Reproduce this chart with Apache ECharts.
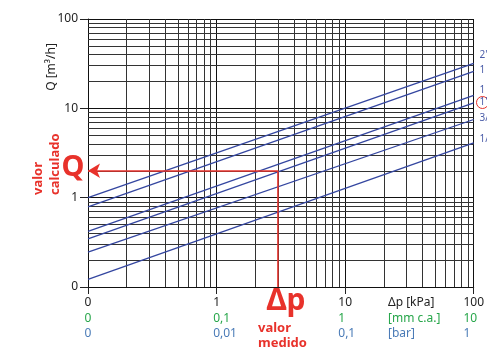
<!DOCTYPE html>
<html><head><meta charset="utf-8">
<script src="https://cdn.jsdelivr.net/npm/echarts@6/dist/echarts.min.js"></script>
<style>html,body{margin:0;padding:0;background:#fff}#c{width:487px;height:347px}</style>
</head><body><div id="c"></div>
<script>
// ---- data ----
const dpTicks = [0.1, 1, 10, 100];
const dpLabelsKpa = ['0', '1', '10', '100'];
const dpLabelsMm = ['0', '0,1', '1', '10'];
const dpLabelsBar = ['0', '0,01', '0,1', '1'];
const qTicks = [0.1, 1, 10, 100];
const qLabels = ['0', '1', '10', '100'];
const sizes = ['2"', '1 1/2"', '1 1/4"', '1"', '3/4"', '1/2"'];
const dpStart = 0.1, dpEnd = 100;
const qAtStart = [1.0, 0.79, 0.42, 0.345, 0.245, 0.122];
const qAtEnd = [31.8, 26.0, 14.0, 11.5, 7.5, 4.1];
const dpMeasured = 3;
const qCalculated = 2.0;
const decades = [0.1, 1, 10];
const minorMultipliers = [2, 3, 4, 5, 6, 7, 8, 9];

// ---- styles ----
const FONT = 'Noto Sans';
const RED = '#e8322b';
const GREEN = '#27a64a';
const LBLUE = '#4a7bb7';
const LINEBLUE = '#3446a0';
const GRID = '#333333';

function idxOf(ticks, v) {
  for (let i = 0; i < ticks.length; i++) {
    if (Math.abs(Math.log10(ticks[i]) - Math.log10(v)) < 1e-6) return i;
  }
  return -1;
}

const minorVals = [];
decades.forEach(d => minorMultipliers.forEach(m => minorVals.push(+(d * m).toPrecision(6))));
const gridMark = [];
minorVals.forEach(v => gridMark.push({ xAxis: v }));
minorVals.forEach(v => gridMark.push({ yAxis: v }));

const series = [{
  type: 'line', data: [], z: 1, silent: true,
  markLine: {
    z: 1, silent: true, symbol: ['none', 'none'], animation: false,
    label: { show: false },
    lineStyle: { color: GRID, width: 1, type: 'solid' },
    emphasis: { disabled: true },
    data: gridMark
  }
}];
sizes.forEach((s, i) => {
  series.push({
    name: s, type: 'line', z: 6, symbol: 'none', silent: true,
    lineStyle: { color: LINEBLUE, width: 1.3 },
    data: [[dpStart, qAtStart[i]], [dpEnd, qAtEnd[i]]]
  });
});
series.push({
  type: 'line', z: 7, symbol: 'none', silent: true,
  lineStyle: { color: RED, width: 1.5 },
  data: [[dpMeasured, 0.1], [dpMeasured, qCalculated]],
  markLine: {
    z: 8, silent: true, animation: false, symbol: ['none', 'arrow'], symbolSize: [11, 12],
    label: { show: false },
    lineStyle: { color: RED, width: 1.5, type: 'solid' },
    data: [[{ coord: [dpMeasured, qCalculated] }, { coord: [dpStart, qCalculated] }]]
  }
});

const rightLabelY = [55.5, 70, 90, 102, 118, 139.5];
const graphic = [
  { type: 'text', x: 52, y: 67, rotation: Math.PI / 2,
    style: { text: 'Q [m³/h]', font: '12px "Noto Sans"', fill: '#222', textAlign: 'center', textVerticalAlign: 'middle' } },
  { type: 'text', x: 73, y: 168,
    style: { text: 'Q', font: 'bold 29px "Noto Sans"', fill: RED, textAlign: 'center', textVerticalAlign: 'middle' } },
  { type: 'text', x: 38, y: 195, rotation: Math.PI / 2,
    style: { text: 'valor', font: 'bold 13px "Noto Sans"', fill: RED, textAlign: 'left', textVerticalAlign: 'middle' } },
  { type: 'text', x: 55, y: 195, rotation: Math.PI / 2,
    style: { text: 'calculado', font: 'bold 13px "Noto Sans"', fill: RED, textAlign: 'left', textVerticalAlign: 'middle' } },
  { type: 'text', x: 286, y: 301,
    style: { text: 'Δp', font: 'bold 30px "Noto Sans"', fill: RED, textAlign: 'center', textVerticalAlign: 'middle' } },
  { type: 'text', x: 258, y: 328,
    style: { text: 'valor', font: 'bold 13px "Noto Sans"', fill: RED, textAlign: 'left', textVerticalAlign: 'middle' } },
  { type: 'text', x: 258, y: 343,
    style: { text: 'medido', font: 'bold 13px "Noto Sans"', fill: RED, textAlign: 'left', textVerticalAlign: 'middle' } },
  { type: 'text', x: 388, y: 303,
    style: { text: 'Δp [kPa]', font: '12px "Noto Sans"', fill: '#222', textAlign: 'left', textVerticalAlign: 'middle' } },
  { type: 'text', x: 388, y: 318.5,
    style: { text: '[mm c.a.]', font: '12px "Noto Sans"', fill: GREEN, textAlign: 'left', textVerticalAlign: 'middle' } },
  { type: 'text', x: 388, y: 334,
    style: { text: '[bar]', font: '12px "Noto Sans"', fill: LBLUE, textAlign: 'left', textVerticalAlign: 'middle' } },
  { type: 'circle', shape: { cx: 482.5, cy: 102.5, r: 6 },
    style: { fill: 'none', stroke: RED, lineWidth: 1 } }
];
sizes.forEach((s, i) => graphic.push({
  type: 'text', x: 479.5, y: rightLabelY[i],
  style: { text: s, font: '10px "Noto Sans"', fill: '#4a5ca8', textAlign: 'left', textVerticalAlign: 'middle' }
}));

const chart = echarts.init(document.getElementById('c'), null, { renderer: 'canvas' });
chart.setOption({
  animation: false,
  backgroundColor: '#fff',
  textStyle: { fontFamily: FONT },
  grid: { left: 88, right: 12, top: 19, bottom: 60, containLabel: false },
  xAxis: {
    type: 'log', logBase: 10, min: 0.1, max: 100,
    axisLine: { show: true, lineStyle: { color: '#111', width: 1 } },
    axisTick: { show: true, length: 7, lineStyle: { color: '#222' } },
    splitLine: { show: true, lineStyle: { color: '#111', width: 1 } },
    axisLabel: {
      margin: 8,
      formatter: function (v) {
        const i = idxOf(dpTicks, v);
        if (i < 0) return '';
        return '{a|' + dpLabelsKpa[i] + '}\n{g|' + dpLabelsMm[i] + '}\n{b|' + dpLabelsBar[i] + '}';
      },
      rich: {
        a: { color: '#222', fontSize: 12, lineHeight: 15.5, fontFamily: FONT },
        g: { color: GREEN, fontSize: 12, lineHeight: 15.5, fontFamily: FONT, width: 1, align: 'left' },
        b: { color: LBLUE, fontSize: 12, lineHeight: 15.5, fontFamily: FONT, width: 1, align: 'left' }
      }
    }
  },
  yAxis: {
    type: 'log', logBase: 10, min: 0.1, max: 100,
    axisLine: { show: true, lineStyle: { color: '#111', width: 1 } },
    axisTick: { show: true, length: 8, lineStyle: { color: '#222' } },
    splitLine: { show: true, lineStyle: { color: '#111', width: 1 } },
    axisLabel: {
      margin: 10, color: '#222', fontSize: 12, fontFamily: FONT,
      formatter: function (v) { const i = idxOf(qTicks, v); return i < 0 ? '' : qLabels[i]; }
    }
  },
  graphic: graphic,
  series: series
});
</script>
</body></html>
